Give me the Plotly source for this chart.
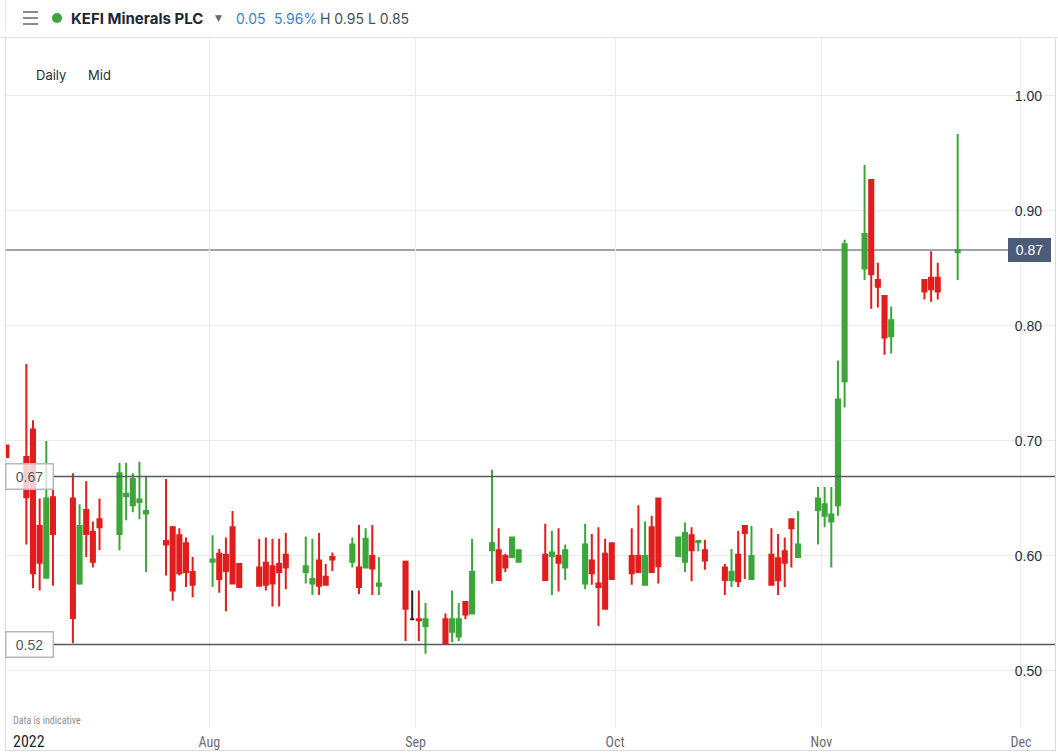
import plotly.graph_objects as go

# ---------------- data ----------------
dates = [
    "2022-07-01", "2022-07-04", "2022-07-05", "2022-07-06", "2022-07-07", "2022-07-08",
    "2022-07-11", "2022-07-12", "2022-07-13", "2022-07-14", "2022-07-15",
    "2022-07-18", "2022-07-19", "2022-07-20", "2022-07-21", "2022-07-22",
    "2022-07-25", "2022-07-26", "2022-07-27", "2022-07-28", "2022-07-29",
    "2022-08-01", "2022-08-02", "2022-08-03", "2022-08-04", "2022-08-05",
    "2022-08-08", "2022-08-09", "2022-08-10", "2022-08-11", "2022-08-12",
    "2022-08-15", "2022-08-16", "2022-08-17", "2022-08-18", "2022-08-19",
    "2022-08-22", "2022-08-23", "2022-08-24", "2022-08-25", "2022-08-26",
    "2022-08-30", "2022-08-31", "2022-09-01", "2022-09-02",
    "2022-09-05", "2022-09-06", "2022-09-07", "2022-09-08", "2022-09-09",
    "2022-09-12", "2022-09-13", "2022-09-14", "2022-09-15", "2022-09-16",
    "2022-09-20", "2022-09-21", "2022-09-22", "2022-09-23",
    "2022-09-26", "2022-09-27", "2022-09-28", "2022-09-29", "2022-09-30",
    "2022-10-03", "2022-10-04", "2022-10-05", "2022-10-06", "2022-10-07",
    "2022-10-10", "2022-10-11", "2022-10-12", "2022-10-13", "2022-10-14",
    "2022-10-17", "2022-10-18", "2022-10-19", "2022-10-20", "2022-10-21",
    "2022-10-24", "2022-10-25", "2022-10-26", "2022-10-27", "2022-10-28",
    "2022-10-31", "2022-11-01", "2022-11-02", "2022-11-03", "2022-11-04",
    "2022-11-07", "2022-11-08", "2022-11-09", "2022-11-10", "2022-11-11",
    "2022-11-16", "2022-11-17", "2022-11-18", "2022-11-21",
]
opens = [
    0.696, 0.686, 0.710, 0.626, 0.581, 0.651,
    0.650, 0.576, 0.640, 0.621, 0.632,
    0.619, 0.652, 0.644, 0.647, 0.637,
    0.613, 0.625, 0.618, 0.611, 0.586,
    0.595, 0.602, 0.601, 0.625, 0.593,
    0.590, 0.594, 0.591, 0.593, 0.601,
    0.586, 0.576, 0.596, 0.582, 0.599,
    0.595, 0.590, 0.590, 0.600, 0.574,
    0.595, 0.545, 0.545, 0.539,
    0.545, 0.534, 0.530, 0.560, 0.550,
    0.605, 0.605, 0.600, 0.599, 0.595,
    0.601, 0.600, 0.600, 0.590,
    0.576, 0.596, 0.576, 0.602, 0.611,
    0.600, 0.600, 0.575, 0.625, 0.650,
    0.600, 0.595, 0.618, 0.612, 0.605,
    0.590, 0.579, 0.601, 0.626, 0.580,
    0.601, 0.598, 0.604, 0.632, 0.599,
    0.640, 0.635, 0.630, 0.644, 0.752,
    0.850, 0.927, 0.840, 0.826, 0.791,
    0.840, 0.842, 0.842, 0.864,
]
highs = [
    0.696, 0.767, 0.718, 0.650, 0.700, 0.660,
    0.672, 0.645, 0.665, 0.630, 0.650,
    0.681, 0.681, 0.672, 0.682, 0.669,
    0.667, 0.626, 0.624, 0.616, 0.599,
    0.618, 0.606, 0.616, 0.639, 0.593,
    0.615, 0.616, 0.615, 0.615, 0.620,
    0.617, 0.615, 0.620, 0.593, 0.603,
    0.616, 0.627, 0.624, 0.627, 0.599,
    0.596, 0.570, 0.570, 0.559,
    0.550, 0.570, 0.559, 0.560, 0.615,
    0.675, 0.624, 0.602, 0.616, 0.605,
    0.628, 0.622, 0.624, 0.610,
    0.628, 0.619, 0.625, 0.615, 0.611,
    0.624, 0.644, 0.630, 0.635, 0.650,
    0.616, 0.629, 0.625, 0.613, 0.614,
    0.593, 0.606, 0.622, 0.626, 0.626,
    0.624, 0.619, 0.616, 0.632, 0.639,
    0.660, 0.660, 0.660, 0.770, 0.875,
    0.940, 0.927, 0.855, 0.826, 0.817,
    0.840, 0.865, 0.855, 0.967,
]
lows = [
    0.686, 0.610, 0.572, 0.570, 0.581, 0.574,
    0.524, 0.575, 0.599, 0.590, 0.605,
    0.605, 0.631, 0.638, 0.632, 0.586,
    0.583, 0.561, 0.583, 0.573, 0.564,
    0.573, 0.568, 0.552, 0.576, 0.573,
    0.574, 0.570, 0.556, 0.556, 0.571,
    0.576, 0.566, 0.566, 0.575, 0.587,
    0.590, 0.567, 0.590, 0.566, 0.566,
    0.526, 0.545, 0.526, 0.515,
    0.524, 0.525, 0.526, 0.545, 0.550,
    0.576, 0.579, 0.586, 0.599, 0.595,
    0.579, 0.566, 0.569, 0.579,
    0.571, 0.575, 0.539, 0.554, 0.580,
    0.575, 0.586, 0.575, 0.586, 0.576,
    0.600, 0.586, 0.578, 0.604, 0.588,
    0.566, 0.573, 0.573, 0.580, 0.580,
    0.575, 0.566, 0.573, 0.590, 0.599,
    0.610, 0.625, 0.590, 0.635, 0.729,
    0.840, 0.815, 0.816, 0.775, 0.776,
    0.823, 0.821, 0.823, 0.840,
]
closes = [
    0.686, 0.651, 0.585, 0.594, 0.650, 0.619,
    0.546, 0.626, 0.619, 0.595, 0.625,
    0.672, 0.654, 0.667, 0.649, 0.639,
    0.610, 0.570, 0.585, 0.586, 0.575,
    0.597, 0.580, 0.587, 0.576, 0.573,
    0.574, 0.575, 0.576, 0.586, 0.590,
    0.591, 0.580, 0.574, 0.575, 0.597,
    0.610, 0.573, 0.615, 0.589, 0.576,
    0.554, 0.545, 0.544, 0.545,
    0.524, 0.545, 0.545, 0.549, 0.586,
    0.611, 0.579, 0.590, 0.616, 0.605,
    0.579, 0.603, 0.594, 0.605,
    0.610, 0.585, 0.573, 0.554, 0.580,
    0.585, 0.586, 0.600, 0.586, 0.591,
    0.616, 0.620, 0.605, 0.613, 0.596,
    0.579, 0.586, 0.578, 0.620, 0.600,
    0.575, 0.579, 0.594, 0.624, 0.610,
    0.650, 0.645, 0.636, 0.736, 0.871,
    0.880, 0.845, 0.834, 0.790, 0.805,
    0.830, 0.832, 0.830, 0.866,
]

y_ticks = [0.50, 0.60, 0.70, 0.80, 0.90, 1.00]
y_tick_labels = ["0.50", "0.60", "0.70", "0.80", "0.90", "1.00"]
month_ticks = ["2022-08-01", "2022-09-01", "2022-10-01", "2022-11-01", "2022-12-01"]
month_labels = ["Aug", "Sep", "Oct", "Nov", "Dec"]
level_hi, level_lo, last_price = 0.669, 0.523, 0.866

# ---------------- layout geometry ----------------
W, H = 1058, 755
ML, MR, MT, MB = 5, 3, 38, 27
PW, PH = W - ML - MR, H - MT - MB


def fx(px):
    return (px - ML) / PW


def fy(py):
    return 1 - (py - MT) / PH


GREEN = "#3da53a"
RED = "#e11d1d"

# split: unchanged days (open == close) drawn black
chg = [i for i in range(len(dates)) if opens[i] != closes[i]]
flat = [i for i in range(len(dates)) if opens[i] == closes[i]]


def pick(arr, idx):
    return [arr[i] for i in idx]


# candles centred at midday
def noon(d):
    return d + " 12:00"


fig = go.Figure()
fig.add_trace(go.Candlestick(
    x=[noon(d) for d in pick(dates, chg)],
    open=pick(opens, chg), high=pick(highs, chg),
    low=pick(lows, chg), close=pick(closes, chg),
    increasing=dict(line=dict(color=GREEN, width=2), fillcolor=GREEN),
    decreasing=dict(line=dict(color=RED, width=2), fillcolor=RED),
    whiskerwidth=0, showlegend=False, hoverinfo="skip",
))
fig.add_trace(go.Candlestick(
    x=[noon(d) for d in pick(dates, flat)],
    open=pick(opens, flat), high=pick(highs, flat),
    low=pick(lows, flat), close=pick(closes, flat),
    increasing=dict(line=dict(color="#222222", width=2), fillcolor="#222222"),
    decreasing=dict(line=dict(color="#222222", width=2), fillcolor="#222222"),
    whiskerwidth=0, showlegend=False, hoverinfo="skip",
))

FONT = "Liberation Sans, Arial, sans-serif"
NARROW = "Liberation Sans Narrow, Arial Narrow, Roboto Condensed, Liberation Sans, sans-serif"
HEAD = "Inter, Roboto, Liberation Sans, sans-serif"

shapes = []
# header separator line
shapes.append(dict(type="line", xref="paper", yref="paper", x0=fx(0), x1=fx(W), y0=fy(37.5), y1=fy(37.5),
                   line=dict(color="#dfe3e8", width=1), layer="above"))
# plot left/right/bottom borders
shapes.append(dict(type="line", xref="paper", yref="paper", x0=fx(5.5), x1=fx(5.5), y0=fy(38), y1=fy(751),
                   line=dict(color="#d5dbe1", width=1)))
shapes.append(dict(type="line", xref="paper", yref="paper", x0=fx(1055.5), x1=fx(1055.5), y0=fy(38), y1=fy(751),
                   line=dict(color="#d5dbe1", width=1)))
shapes.append(dict(type="line", xref="paper", yref="paper", x0=fx(5), x1=fx(1056), y0=fy(750.5), y1=fy(750.5),
                   line=dict(color="#d5dbe1", width=1)))
shapes.append(dict(type="line", xref="paper", yref="paper", x0=fx(5.5), x1=fx(5.5), y0=fy(0), y1=fy(31),
                   line=dict(color="#e3e6ea", width=1)))
# hamburger icon
for yy in (12, 18, 24):
    shapes.append(dict(type="line", xref="paper", yref="paper", x0=fx(23), x1=fx(38), y0=fy(yy), y1=fy(yy),
                       line=dict(color="#6b6f75", width=1.6)))
# green status dot
shapes.append(dict(type="circle", xref="paper", yref="paper", x0=fx(52), x1=fx(62), y0=fy(13), y1=fy(23),
                   fillcolor=GREEN, line=dict(width=0)))
# support / resistance lines
shapes.append(dict(type="line", xref="paper", yref="y", x0=fx(53), x1=1, y0=level_hi, y1=level_hi,
                   line=dict(color="#555a60", width=1.5), layer="above"))
shapes.append(dict(type="line", xref="paper", yref="y", x0=fx(53), x1=1, y0=level_lo, y1=level_lo,
                   line=dict(color="#555a60", width=1.5), layer="above"))
# last price line
shapes.append(dict(type="line", xref="paper", yref="y", x0=0, x1=fx(1008), y0=last_price, y1=last_price,
                   line=dict(color="#9aa4b4", width=2), layer="below"))

ann = []
ann.append(dict(text="<b>KEFI Minerals PLC</b>", xref="paper", yref="paper", x=fx(69), y=fy(18),
                xanchor="left", yanchor="middle", showarrow=False,
                font=dict(family=HEAD, size=15, color="#1d2636")))
ann.append(dict(text="▼", xref="paper", yref="paper", x=fx(218), y=fy(18),
                xanchor="center", yanchor="middle", showarrow=False,
                font=dict(family="DejaVu Sans", size=9, color="#666a70")))
ann.append(dict(text="0.05", xref="paper", yref="paper", x=fx(234), y=fy(18),
                xanchor="left", yanchor="middle", showarrow=False,
                font=dict(family=HEAD, size=14, color="#3f7fc4")))
ann.append(dict(text="5.96%", xref="paper", yref="paper", x=fx(272), y=fy(18),
                xanchor="left", yanchor="middle", showarrow=False,
                font=dict(family=HEAD, size=14, color="#3f7fc4")))
ann.append(dict(text="H 0.95 L 0.85", xref="paper", yref="paper", x=fx(318), y=fy(18),
                xanchor="left", yanchor="middle", showarrow=False,
                font=dict(family=HEAD, size=14, color="#4a4e55")))
ann.append(dict(text="Daily", xref="paper", yref="paper", x=fx(34), y=fy(75),
                xanchor="left", yanchor="middle", showarrow=False,
                font=dict(family=HEAD, size=13, color="#2b2f36")))
ann.append(dict(text="Mid", xref="paper", yref="paper", x=fx(86), y=fy(75),
                xanchor="left", yanchor="middle", showarrow=False,
                font=dict(family=HEAD, size=13, color="#2b2f36")))
ann.append(dict(text="Data is indicative", xref="paper", yref="paper", x=fx(11), y=fy(720),
                xanchor="left", yanchor="middle", showarrow=False,
                font=dict(family=NARROW, size=10, color="#8a8e94")))
ann.append(dict(text="2022", xref="paper", yref="paper", x=fx(11), y=fy(741),
                xanchor="left", yanchor="middle", showarrow=False,
                font=dict(family=NARROW, size=16, color="#1d2636")))
# level labels
ann.append(dict(text="0.67", xref="paper", yref="y", x=fx(29), y=level_hi,
                xanchor="center", yanchor="middle", showarrow=False,
                width=44, height=22, bgcolor="rgba(255,255,255,0.78)",
                bordercolor="#b5b8c2", borderwidth=1.5, borderpad=1,
                font=dict(family=FONT, size=14, color="#555a60")))
ann.append(dict(text="0.52", xref="paper", yref="y", x=fx(29), y=level_lo,
                xanchor="center", yanchor="middle", showarrow=False,
                width=44, height=22, bgcolor="rgba(255,255,255,0.78)",
                bordercolor="#b5b8c2", borderwidth=1.5, borderpad=1,
                font=dict(family=FONT, size=14, color="#555a60")))
ann.append(dict(text="0.87", xref="paper", yref="y", x=fx(1029), y=last_price,
                xanchor="center", yanchor="middle", showarrow=False,
                width=39, height=20, bgcolor="#4b5c79",
                bordercolor="#4b5c79", borderwidth=1, borderpad=1,
                font=dict(family=FONT, size=14, color="#ffffff")))

fig.update_layout(
    width=W, height=H,
    margin=dict(l=ML, r=MR, t=MT, b=MB),
    paper_bgcolor="white", plot_bgcolor="white",
    showlegend=False,
    boxgap=0.12,
    shapes=shapes, annotations=ann,
    xaxis=dict(
        type="date",
        range=["2022-07-01 07:00", "2022-12-06 03:00"],
        rangeslider=dict(visible=False),
        tickmode="array", tickvals=month_ticks, ticktext=month_labels,
        showgrid=True, gridcolor="#ececec", gridwidth=1,
        zeroline=False, showline=False, ticks="",
        tickfont=dict(family=NARROW, size=14, color="#6a6e74"),
        ticklabelstandoff=4,
        ticklabeloverflow="allow",
    ),
    yaxis=dict(
        side="right",
        range=[0.4504, 1.0504],
        tickmode="array", tickvals=y_ticks, ticktext=y_tick_labels,
        ticklabelposition="inside",
        ticklabelstandoff=10,
        ticklabeloverflow="allow",
        showgrid=True, gridcolor="#ececec", gridwidth=1,
        zeroline=False, showline=False, ticks="",
        tickfont=dict(family=FONT, size=14, color="#2b2f36"),
    ),
)

fig.write_html(
    "out.html",
    config={"displayModeBar": False},
    post_script="document.body.style.margin='0';document.body.style.overflow='hidden';",
)
